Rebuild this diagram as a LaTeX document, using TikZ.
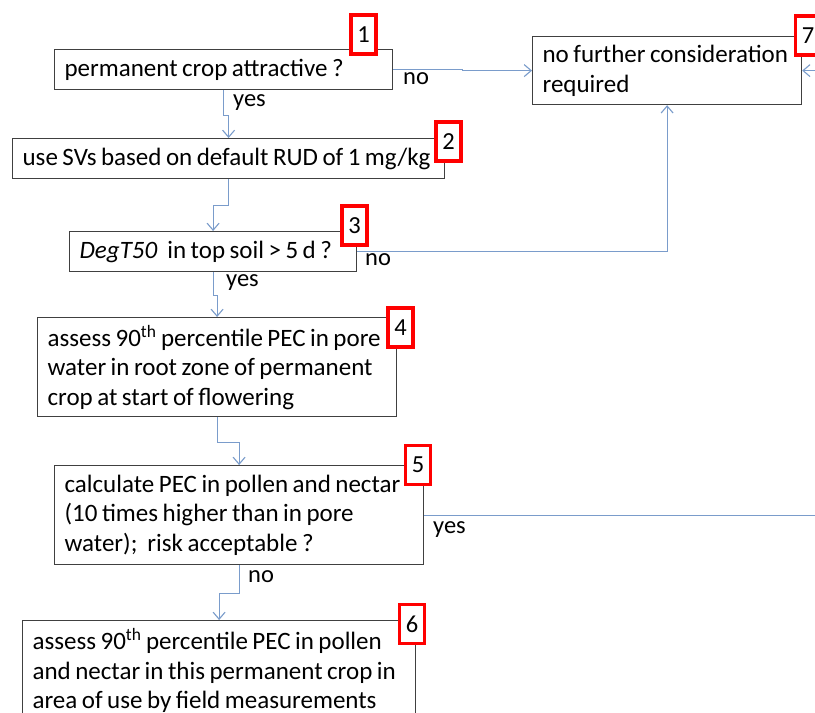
\documentclass[tikz,border=0pt]{standalone}
\usepackage{fontspec}
\setmainfont{Carlito}
\usetikzlibrary{arrows.meta,calc}
\definecolor{conn}{HTML}{7A9CCB}
\definecolor{boxline}{HTML}{404040}
\tikzset{
  box/.style={draw=boxline, line width=1.2pt, fill=white, anchor=north west, inner xsep=10pt, inner ysep=0pt, align=left, font=\fontsize{25}{29.5}\selectfont, execute at begin node={\spaceskip=4.5pt\relax\xspaceskip=4.5pt\relax}},
  tag/.style={draw=red, line width=3.6pt, fill=white, minimum width=25pt, minimum height=39pt, inner sep=0pt, font=\fontsize{24.5}{26}\selectfont},
  conn/.style={draw=conn, line width=1.1pt, -{Straight Barb[length=7pt,width=12pt]}},
  lab/.style={anchor=west, inner sep=0pt, font=\fontsize{24.5}{26}\selectfont}
}
\begin{document}
\begin{tikzpicture}[x=1pt,y=-1pt]
\useasboundingbox (0,0) rectangle (815,713);
\clip (0,0) rectangle (815,713);
\fill[white] (0,0) rectangle (815,713);
% boxes
\node[box, text width=318pt, minimum height=40pt] (b1) at (54,49) {\mbox{permanent crop attractive ?}};
\node[box, text width=412pt, minimum height=40pt] (b2) at (12,138) {\mbox{use SVs based on default RUD of 1 mg/kg}};
\node[box, text width=267pt, minimum height=40pt] (b3) at (69,231) {\mbox{\textit{DegT50}\hspace{10pt}in top soil > 5 d ?}};
\node[box, text width=339pt, minimum height=99pt] (b4) at (37,317) {\mbox{assess 90\textsuperscript{th}\hspace{4.5pt}percentile PEC in pore}\\\mbox{water in root zone of permanent}\\\mbox{crop at start of flowering}};
\node[box, text width=349pt, minimum height=99pt] (b5) at (54,465) {\mbox{calculate PEC in pollen and nectar}\\\mbox{(10 times higher than in pore}\\\mbox{water);\hspace{10pt}risk acceptable ?}};
\node[box, text width=373pt, minimum height=100pt] (b6) at (22,620) {\mbox{assess 90\textsuperscript{th}\hspace{4.5pt}percentile PEC in pollen}\\\mbox{and nectar in this permanent crop in}\\\mbox{area of use by field measurements}};
\node[box, text width=249pt, minimum height=68pt] (b7) at (532,36) {\mbox{no further consideration}\\\mbox{required}};
% tags
\node[tag] (t1) at (363.5,34.5) {1};
\node[tag] (t2) at (448.5,141.5) {2};
\node[tag] (t3) at (354.5,225.5) {3};
\node[tag] (t4) at (400.5,327.5) {4};
\node[tag] (t5) at (418,465) {5};
\node[tag] (t6) at (412,624) {6};
\node[tag] (t7) at (808,35.5) {7};
% connectors
\coordinate (r) at (840,0);
\draw[conn] (b1.south) -- ++(0,25) -| (b2.north);
\draw[conn] (b2.south) -- ++(0,26) -| (b3.north);
\draw[conn] (b3.south) -- ++(0,23) -| (b4.north);
\draw[conn] (b4.south) -- ++(0,25) -| (b5.north);
\draw[conn] (b5.south) -- ++(0,28) -| (b6.north);
\draw[conn] (b1.east) -- ++(69,0) |- (b7.west);
\draw[conn] (b3.east) -| (b7.south);
\draw[conn] (b5.east) -- (b5.east -| r) -- (b7.east -| r) -- (b7.east);
% labels
\node[lab] (l1) at (233,103) {yes};
\node[lab] (l2) at (403,79) {no};
\node[lab] (l3) at (365,260) {no};
\node[lab] (l4) at (226,283) {yes};
\node[lab] (l5) at (433,530) {yes};
\node[lab] (l6) at (248,577) {no};
\end{tikzpicture}
\end{document}
